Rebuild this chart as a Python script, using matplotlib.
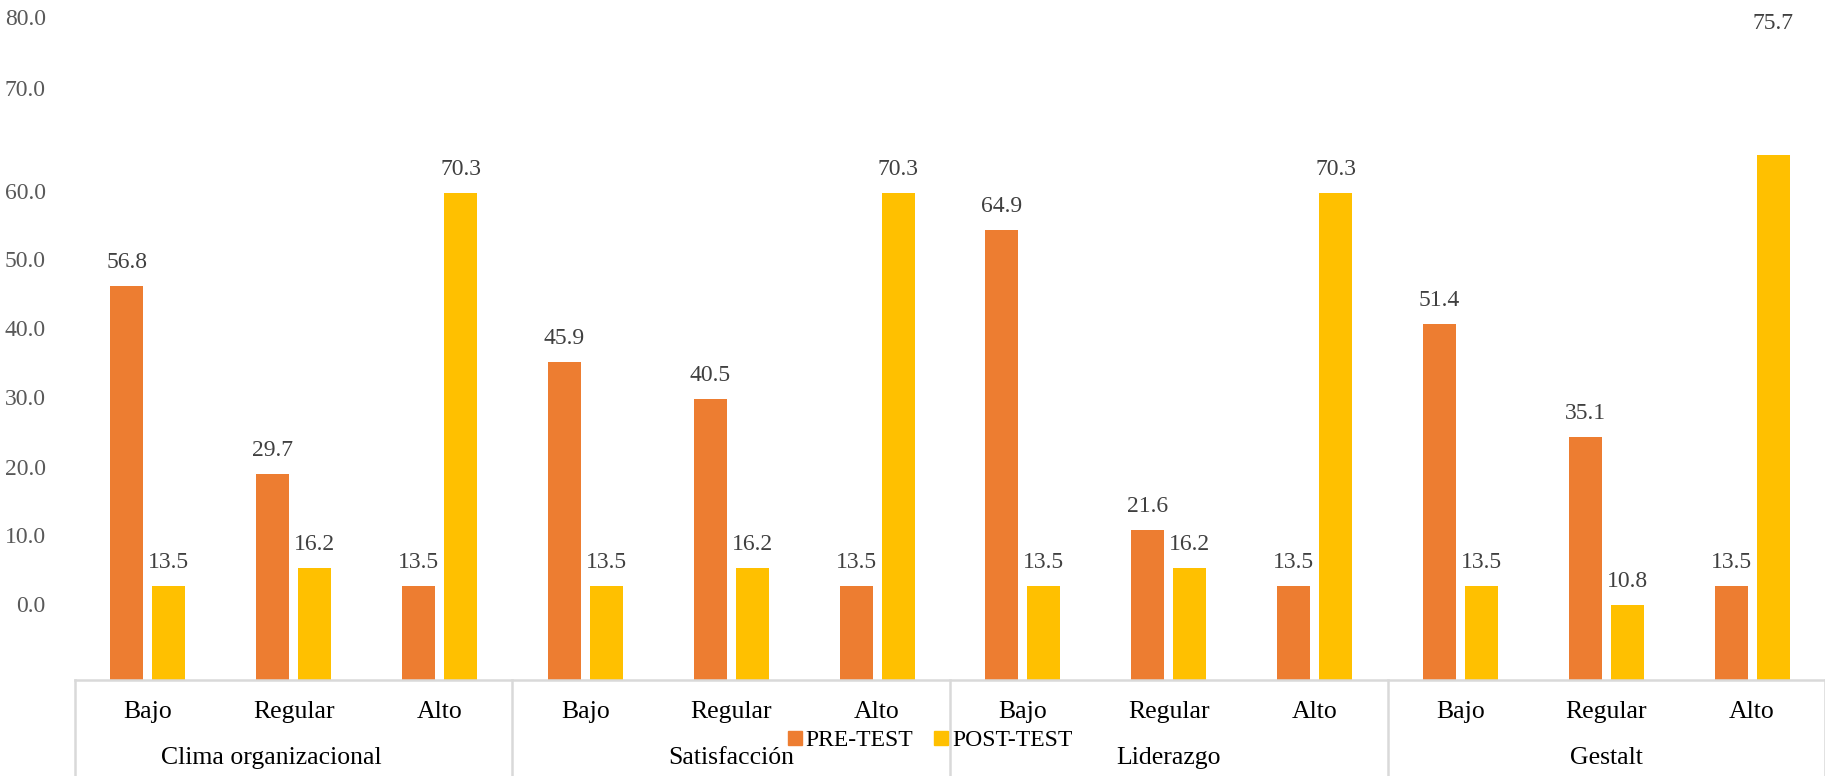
import matplotlib
matplotlib.use("Agg")
import matplotlib.pyplot as plt
from matplotlib.lines import Line2D
import numpy as np

plt.rcParams['font.family'] = ['Liberation Serif', 'DejaVu Serif']

# data
groups = ["Clima organizacional", "Satisfacción", "Liderazgo", "Gestalt"]
levels = ["Bajo", "Regular", "Alto"]
pre_test = [56.8, 29.7, 13.5, 45.9, 40.5, 13.5, 64.9, 21.6, 13.5, 51.4, 35.1, 13.5]
post_test = [13.5, 16.2, 70.3, 13.5, 16.2, 70.3, 13.5, 16.2, 70.3, 13.5, 10.8, 75.7]
series_names = ["PRE-TEST", "POST-TEST"]
tick_labels = ["0.0", "10.0", "20.0", "30.0", "40.0", "50.0", "60.0", "70.0", "80.0"]

ORANGE = "#ED7D31"
YELLOW = "#FFC000"
GRID = "#D9D9D9"

W, H = 1825, 776
fig = plt.figure(figsize=(W / 100, H / 100), dpi=100)
base_px = 680
left_px = 75
ax = fig.add_axes([left_px / W, (H - base_px) / H, (W - left_px) / W, base_px / H])

px_per_unit = 6.93
ax.set_ylim(0, base_px / px_per_unit)
n = len(pre_test)
x = np.arange(n)
ax.set_xlim(-0.5, n - 0.5)

bw = 0.226
off = 0.144
bars_pre = ax.bar(x - off, pre_test, bw, color=ORANGE)
bars_post = ax.bar(x + off, post_test, bw, color=YELLOW)

# value labels
for bars, vals in ((bars_pre, pre_test), (bars_post, post_test)):
    for b, v in zip(bars, vals):
        dy = 17
        if v == max(post_test) and bars is bars_post:
            dy = 95  # this one floats near the top in the original
        ax.annotate(f"{v:.1f}", (b.get_x() + b.get_width() / 2, v),
                    xytext=(0, dy), textcoords="offset points",
                    ha="center", va="center", fontsize=17, color="#404040")

# y tick labels sit where the original chart put them (shifted)
tick_pos = [11.0, 20.9, 30.8, 40.8, 50.8, 60.8, 70.6, 85.4, 95.7]
ax.set_yticks(tick_pos)
ax.set_yticklabels(tick_labels, fontsize=17, color="#595959")
ax.tick_params(axis="y", length=0, pad=21)
ax.set_xticks([])
for s in ax.spines.values():
    s.set_visible(False)

# category axis
xt = ax.get_xaxis_transform()
ax.plot([-0.5, n - 0.5], [0, 0], color=GRID, lw=1.8, transform=xt, clip_on=False)
bottom = -(H - base_px) / base_px
for b in np.arange(-0.5, n, 3):
    ax.plot([b, b], [0, bottom], color=GRID, lw=1.8, transform=xt, clip_on=False)
for i in range(n):
    ax.text(i, -32 / base_px, levels[i % 3], transform=xt, ha="center", va="center",
            fontsize=18.5, color="black")
for g, name in enumerate(groups):
    shift = -16 if g == 0 else 0  # first group label sits a bit left in the original
    ax.annotate(name, (g * 3 + 1, -78 / base_px), xycoords=xt,
                xytext=(shift, 0), textcoords="offset points",
                ha="center", va="center", fontsize=18.5, color="black",
                annotation_clip=False)

handles = [Line2D([], [], marker="s", ls="none", color=c, markersize=9.5)
           for c in (ORANGE, YELLOW)]
fig.legend(handles, series_names, loc="center", bbox_to_anchor=(930 / W, 1 - 740 / H),
           ncol=2, frameon=False, fontsize=17, handlelength=0.6, handletextpad=0.15,
           columnspacing=0.9, borderpad=0)

fig.savefig("out.png", dpi=100)
